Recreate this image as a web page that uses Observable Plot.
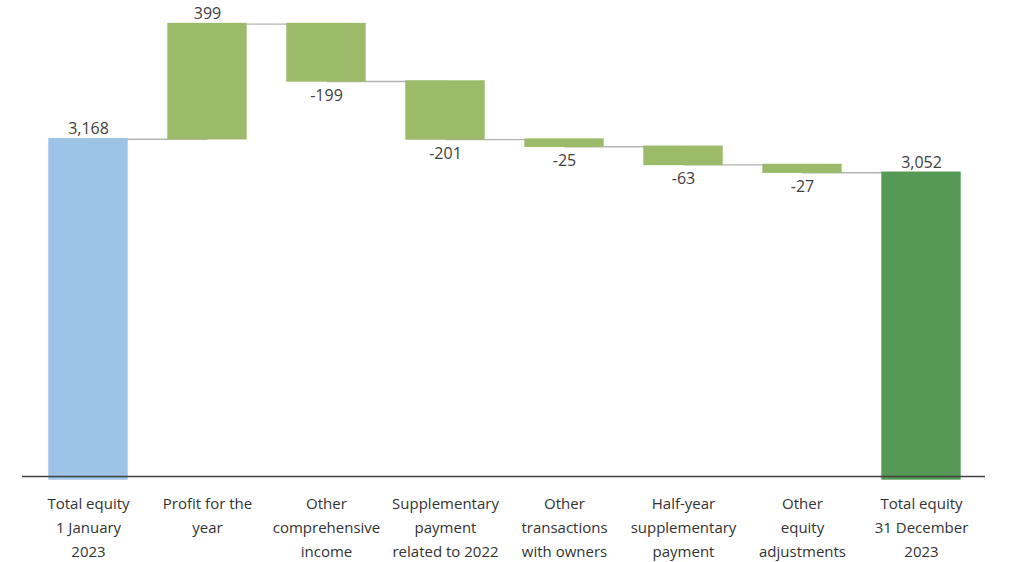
<!DOCTYPE html>
<html>
<head>
<meta charset="utf-8">
<script src="https://cdn.jsdelivr.net/npm/d3@7"></script>
<script src="https://cdn.jsdelivr.net/npm/@observablehq/plot@0.6"></script>
<style>
  html, body { margin: 0; padding: 0; background: #fff; }
  #chart svg { display: block; }
</style>
</head>
<body>
<div id="chart"></div>
<script>
const categories = [
  "Total equity\n1 January\n2023",
  "Profit for the\nyear",
  "Other\ncomprehensive\nincome",
  "Supplementary\npayment\nrelated to 2022",
  "Other\ntransactions\nwith owners",
  "Half-year\nsupplementary\npayment",
  "Other\nequity\nadjustments",
  "Total equity\n31 December\n2023"
];
const values = [3168, 399, -199, -201, -25, -63, -27, 3052];
const kinds = ["start", "delta", "delta", "delta", "delta", "delta", "delta", "end"];
const colors = { start: "#9dc3e6", delta: "#9bbb6a", end: "#559955" };
const yBase = 2000;

// build waterfall table
let running = 0;
const rows = categories.map((c, i) => {
  const v = values[i], k = kinds[i];
  let lo, hi;
  if (k === "delta") {
    const prev = running;
    running += v;
    lo = Math.min(prev, running); hi = Math.max(prev, running);
  } else {
    running = v; lo = yBase; hi = v;
  }
  return { cat: c, value: v, kind: k, lo, hi, level: running };
});
const links = rows.slice(0, -1).map((r, i) => ({ from: r.cat, to: rows[i + 1].cat, level: r.level }));
const fmt = v => v < 0 ? "-" + d3.format(",")(-v) : d3.format(",")(v);

const chart = Plot.plot({
  width: 1013,
  height: 562,
  marginLeft: 23,
  marginRight: 27,
  marginTop: 14,
  marginBottom: 86,
  style: { fontFamily: "'Open Sans', sans-serif", fontSize: "15px", color: "#404040", background: "#fff" },
  x: { domain: categories, paddingInner: 0.345, paddingOuter: 0.21, label: null },
  y: { domain: [yBase, 3600], axis: null },
  marks: [
    Plot.link(links, { x1: "from", x2: "to", y1: "level", y2: "level", stroke: "#b3b3b3", strokeWidth: 1.3 }),
    Plot.barY(rows.filter(d => d.kind === "delta"), { x: "cat", y1: "lo", y2: "hi", fill: colors.delta, stroke: colors.delta, strokeWidth: 1.4 }),
    Plot.barY(rows.filter(d => d.kind !== "delta"), { x: "cat", y1: "lo", y2: "hi", fill: d => colors[d.kind], stroke: d => colors[d.kind], strokeWidth: 1.4, insetBottom: -3 }),
    Plot.ruleY([yBase], { stroke: "#404040", strokeWidth: 1.3, dx: -1 }),
    Plot.text(rows.filter(d => d.value >= 0), { x: "cat", y: "hi", text: d => fmt(d.value), dy: -10, fontSize: 16, fill: "#404040" }),
    Plot.text(rows.filter(d => d.value < 0), { x: "cat", y: "lo", text: d => fmt(d.value), dy: 14, fontSize: 16, fill: "#404040" }),
    Plot.axisX({ tickSize: 0, tickPadding: 15, fontSize: 15, lineHeight: 1.6, fill: "#333", label: null })
  ]
});
document.getElementById("chart").appendChild(chart);
</script>
</body>
</html>
